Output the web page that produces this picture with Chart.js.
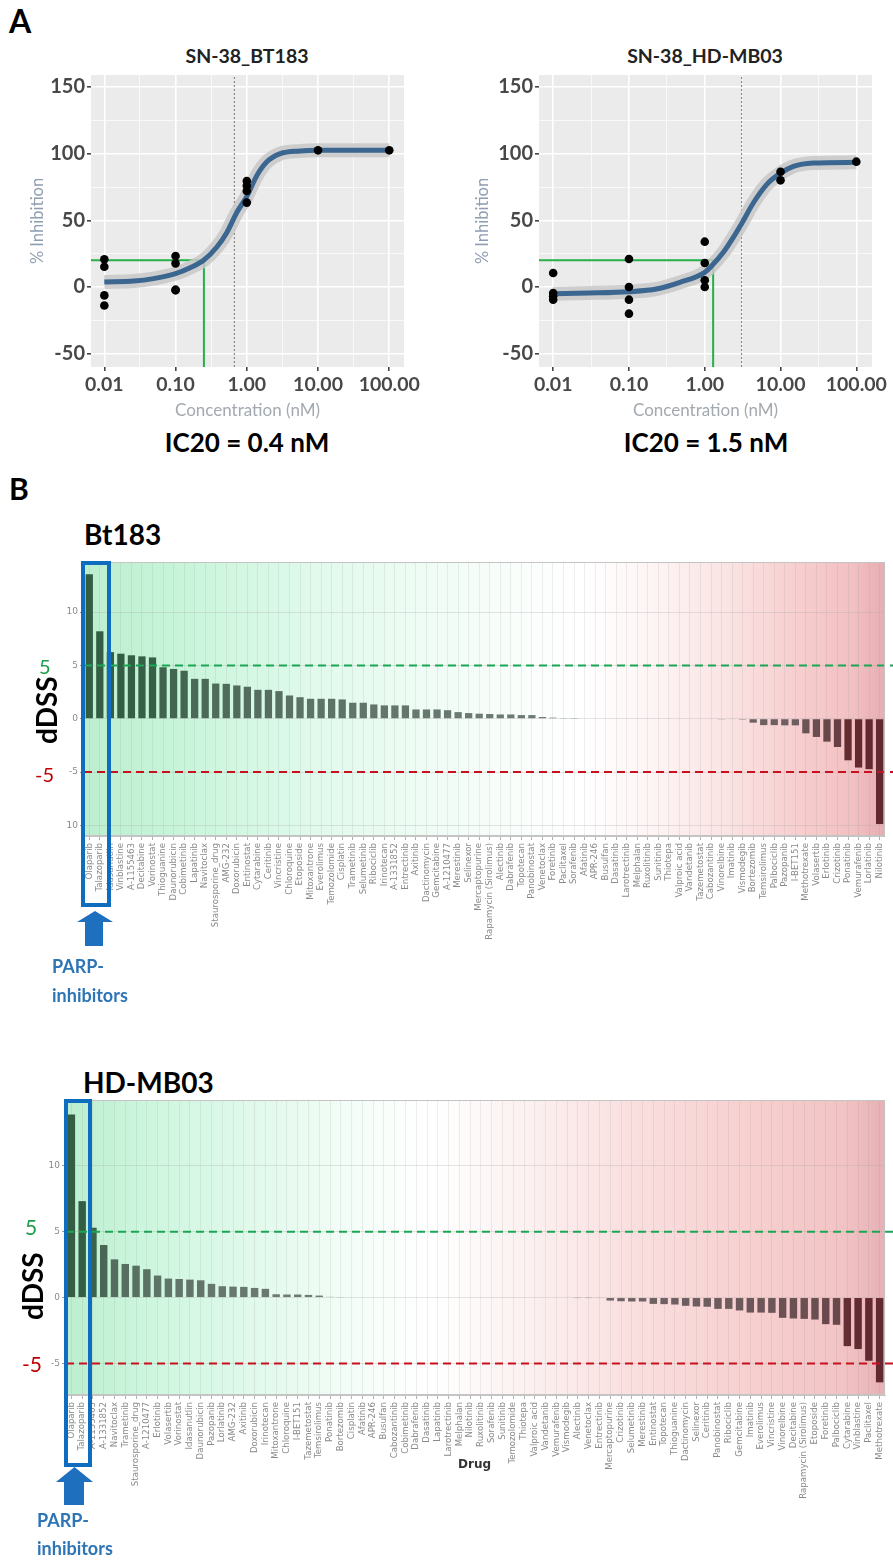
<!DOCTYPE html>
<html><head><meta charset="utf-8">
<script src="https://cdn.jsdelivr.net/npm/chart.js@4.4.1/dist/chart.umd.min.js"></script>
<style>
html,body{margin:0;padding:0;background:#fff;}
body{width:893px;height:1566px;position:relative;overflow:hidden;font-family:Lato,'Open Sans',sans-serif;}
canvas{position:absolute;}
.t{position:absolute;font-family:Lato,sans-serif;font-weight:bold;color:#000;white-space:nowrap;line-height:1;}
.box{position:absolute;border:4px solid #0f6dbf;box-sizing:border-box;}
svg{position:absolute;}
</style></head><body>

<div class="t" style="left:9px;top:5px;font-size:32px;">A</div>
<div class="t" style="left:9px;top:473px;font-size:30px;">B</div>
<div class="t" style="left:147px;top:46px;width:200px;text-align:center;font-size:19.5px;color:#222;">SN-38_BT183</div>
<div class="t" style="left:605px;top:46px;width:200px;text-align:center;font-size:19.5px;color:#222;">SN-38_HD-MB03</div>
<div class="t" style="left:147px;top:429px;width:200px;text-align:center;font-size:26px;">IC20 = 0.4 nM</div>
<div class="t" style="left:606px;top:429px;width:200px;text-align:center;font-size:26px;">IC20 = 1.5 nM</div>

<canvas id="cA1" width="416" height="385" style="left:24px;top:40px;"></canvas>
<canvas id="cA2" width="424" height="385" style="left:469px;top:40px;"></canvas>

<div class="t" style="left:84px;top:520px;font-size:28px;">Bt183</div>
<canvas id="cB1" width="893" height="404" style="left:0px;top:552px;"></canvas>
<div class="t" style="left:39px;top:656px;font-size:20px;font-weight:normal;color:#1e9e4a;">5</div>
<div class="t" style="left:35px;top:764px;font-size:20px;font-weight:normal;color:#c00000;">-5</div>
<div class="t" style="left:16px;top:700px;width:60px;text-align:center;font-size:28px;transform:rotate(-90deg);">dDSS</div>
<div class="box" style="left:81px;top:561px;width:30px;height:346px;"></div>
<svg style="left:75px;top:910px" width="40" height="38"><polygon points="2,12 20,1 38,12 28,12 28,36 10,36 10,12" fill="#1f6fbf"/></svg>
<div class="t" style="left:52px;top:957px;font-size:18px;color:#2e75b6;">PARP-</div>
<div class="t" style="left:52px;top:986px;font-size:18px;color:#2e75b6;">inhibitors</div>

<div class="t" style="left:83px;top:1068px;font-size:28px;">HD-MB03</div>
<canvas id="cB2" width="893" height="476" style="left:0px;top:1090px;"></canvas>
<div class="t" style="left:458px;top:1458px;font-family:'DejaVu Sans';font-size:12px;color:#333;">Drug</div>
<div class="t" style="left:25px;top:1216px;font-size:21px;font-weight:normal;color:#1e9e4a;">5</div>
<div class="t" style="left:22px;top:1353px;font-size:21px;font-weight:normal;color:#c00000;">-5</div>
<div class="t" style="left:2px;top:1276px;width:60px;text-align:center;font-size:28px;transform:rotate(-90deg);">dDSS</div>
<div class="box" style="left:64px;top:1099px;width:28px;height:368px;"></div>
<svg style="left:54px;top:1466px" width="42" height="40"><polygon points="2,16 20.5,1 39,16 30,16 30,39 10,39 10,16" fill="#1f6fbf"/></svg>
<div class="t" style="left:37px;top:1511px;font-size:18px;color:#2e75b6;">PARP-</div>
<div class="t" style="left:37px;top:1539px;font-size:18px;color:#2e75b6;">inhibitors</div>

<script>
// ---------------- Panel A data ----------------
const xTickValues = [0.01, 0.1, 1, 10, 100];
const xTickLabels = ['0.01', '0.10', '1.00', '10.00', '100.00'];
const yTickValues = [-50, 0, 50, 100, 150];
const yTickLabels = ['-50', '0', '50', '100', '150'];

const bt183DoseConc = [0.01,0.01,0.01,0.01, 0.1,0.1,0.1,0.1, 1,1,1,1, 10, 100];
const bt183DoseInhib = [20.8,15.2,-6.3,-13.9, 23.3,17.7,-2.5,-2.0, 79.5,76,72,63.3, 102.5, 102.5];
const bt183CurveConc = [0.01,0.026,0.049,0.1,0.16,0.25,0.38,0.52,0.72,1.0,1.38,1.9,2.95,5.6,10,100];
const bt183CurveInhib = [3.8,4.5,6.3,10,14.4,20.2,30,40.5,55.7,68,83.5,93.7,100,102,102.5,102.5];
const bt183Ic20 = [0.25, 20];
const bt183Ic50 = 0.67;

const hdDoseConc = [0.01,0.01,0.01,0.01, 0.1,0.1,0.1,0.1, 1,1,1,1, 10,10, 100];
const hdDoseInhib = [10.5,-4.5,-7,-9.5, 21,0,-9.5,-20, 34,18,5,0, 86.4,80, 94];
const hdCurveConc = [0.01,0.03,0.1,0.23,0.47,1.0,1.29,1.74,2.37,3.1,4.37,6.6,10,14.8,27,100];
const hdCurveInhib = [-5,-4.5,-3.5,-1.5,3.5,11,17,25.6,37,48,63,77,85.4,90.5,93,93.5];
const hdIc20 = [1.29, 20];
const hdIc50 = 3.06;

const doseXRange = [0.0065, 161];
const doseYRange = [-60, 159];

// ---------------- Panel B data ----------------
const btDrugs = ['Olaparib','Talazoparib','Idasanutlin','Vinblastine','A-1155463','Decitabine','Vorinostat','Thioguanine','Daunorubicin','Cobimetinib','Lapatinib','Navitoclax','Staurosporine_drug','AMG-232','Doxorubicin','Entinostat','Cytarabine','Ceritinib','Vincristine','Chloroquine','Etoposide','Mitoxantrone','Everolimus','Temozolomide','Cisplatin','Trametinib','Selumetinib','Ribociclib','Irinotecan','A-1331852','Entrectinib','Axitinib','Dactinomycin','Gemcitabine','A-1210477','Merestinib','Selinexor','Mercaptopurine','Rapamycin (Sirolimus)','Alectinib','Dabrafenib','Topotecan','Panobinostat','Venetoclax','Foretinib','Paclitaxel','Sorafenib','Afatinib','APR-246','Busulfan','Dasatinib','Larotrectinib','Melphalan','Ruxolitinib','Sunitinib','Thiotepa','Valproic acid','Vandetanib','Tazemetostat','Cabozantinib','Vinorelbine','Imatinib','Vismodegib','Bortezomib','Temsirolimus','Palbociclib','Pazopanib','I-BET151','Methotrexate','Volasertib','Erlotinib','Crizotinib','Ponatinib','Vemurafenib','Lorlatinib','Nilotinib'];
const btDss = [13.55,8.2,6.25,6.1,5.95,5.85,5.75,4.83,4.67,4.5,
  3.74,3.74,3.3,3.27,3.12,3.0,2.71,2.71,2.59,2.18,
  2.02,1.87,1.87,1.87,1.81,1.5,1.5,1.34,1.25,1.25,
  1.25,0.87,0.87,0.87,0.8,0.62,0.53,0.47,0.44,0.4,
  0.4,0.34,0.34,0.16,0.1,0.07,0.02,0,0,0,
  0,0,0,0,0,0,0,0,0,0,
  -0.03,-0.05,-0.08,-0.37,-0.6,-0.6,-0.62,-0.62,-1.37,-1.71,
  -2.15,-2.65,-3.9,-4.58,-4.73,-9.88];
const btYTickValues = [-10, -5, 0, 5, 10];
const btYTickLabels = ['10', '-5', '0', '5', '10'];
const btYRange = [-11, 14.7];

const hdDrugs = ['Olaparib','Talazoparib','A-1155463','A-1331852','Navitoclax','Trametinib','Staurosporine_drug','A-1210477','Erlotinib','Volasertib','Vorinostat','Idasanutlin','Daunorubicin','Pazopanib','Lorlatinib','AMG-232','Axitinib','Doxorubicin','Irinotecan','Mitoxantrone','Chloroquine','I-BET151','Tazemetostat','Temsirolimus','Ponatinib','Bortezomib','Cisplatin','Afatinib','APR-246','Busulfan','Cabozantinib','Cobimetinib','Dabrafenib','Dasatinib','Lapatinib','Larotrectinib','Melphalan','Nilotinib','Ruxolitinib','Sorafenib','Sunitinib','Temozolomide','Thiotepa','Valproic acid','Vandetanib','Vemurafenib','Vismodegib','Alectinib','Venetoclax','Entrectinib','Mercaptopurine','Crizotinib','Selumetinib','Merestinib','Entinostat','Topotecan','Thioguanine','Dactinomycin','Selinexor','Ceritinib','Panobinostat','Ribociclib','Gemcitabine','Imatinib','Everolimus','Vincristine','Vinorelbine','Decitabine','Rapamycin (Sirolimus)','Etoposide','Foretinib','Palbociclib','Cytarabine','Vinblastine','Paclitaxel','Methotrexate'];
const hdDss = [13.9,7.32,5.3,3.99,2.9,2.55,2.42,2.15,1.67,1.44,
  1.41,1.36,1.31,1.04,0.86,0.83,0.81,0.73,0.66,0.25,
  0.23,0.23,0.2,0.15,0.05,0.03,0,0,0,0,
  0,0,0,0,0,0,0,0,0,0,
  0,0,0,0,0,0,0,-0.02,-0.02,-0.03,
  -0.23,-0.28,-0.3,-0.3,-0.48,-0.5,-0.53,-0.63,-0.68,-0.7,
  -0.86,-0.86,-0.98,-1.14,-1.14,-1.16,-1.54,-1.59,-1.62,-1.67,
  -2.02,-2.07,-3.69,-3.91,-4.8,-6.44];
const hdYTickValues = [-5, 0, 5, 10];
const hdYTickLabels = ['-5', '0', '5', '10'];
const hdYRange = [-7.4, 15];

const thresholds = [5, -5];
const thresholdColors = ['#1aa653', '#c8101e'];

// ---------------- helpers ----------------
const zip = (xs, ys) => xs.map((x, i) => ({x, y: ys[i]}));
const near = (a, b) => Math.abs(Math.log10(a) - Math.log10(b)) < 1e-6;

function doseChart(id, d) {
  const minorX = [];
  for (let k = -2; k <= 2.001; k += 0.5) minorX.push(Math.pow(10, k));
  const isMajX = v => xTickValues.some(t => near(t, v));
  const bgPlugin = {id: 'bgA', beforeDraw(c) {
    const a = c.chartArea, ctx = c.ctx;
    ctx.save(); ctx.fillStyle = '#ebebeb';
    ctx.fillRect(a.left, a.top, a.right - a.left, a.bottom - a.top); ctx.restore();
  }};
  return new Chart(document.getElementById(id), {
    type: 'line',
    data: {datasets: [
      {data: zip(d.dc, d.di), showLine: false, pointRadius: 4.3, pointBackgroundColor: '#000', pointBorderWidth: 0, order: 0},
      {data: zip(d.cc, d.ci), borderColor: '#3a6690', borderWidth: 5, pointRadius: 0, cubicInterpolationMode: 'monotone', order: 1},
      {data: zip(d.cc, d.ci), borderColor: 'rgba(200,200,200,0.85)', borderWidth: 14, pointRadius: 0, cubicInterpolationMode: 'monotone', order: 2},
      {data: [{x: doseXRange[0], y: d.ic20[1]}, {x: d.ic20[0], y: d.ic20[1]}, {x: d.ic20[0], y: doseYRange[0]}], borderColor: '#24b04a', borderWidth: 2, pointRadius: 0, tension: 0, order: 3},
      {data: [{x: d.ic50, y: doseYRange[0]}, {x: d.ic50, y: doseYRange[1]}], borderColor: '#8a8a8a', borderWidth: 1.2, borderDash: [2, 2], pointRadius: 0, order: 4}
    ]},
    options: {
      responsive: false, animation: false,
      layout: {padding: {top: 35, right: d.padR, left: 0, bottom: 0}},
      plugins: {legend: {display: false}, tooltip: {enabled: false}},
      scales: {
        x: {type: 'logarithmic', min: doseXRange[0], max: doseXRange[1],
          afterBuildTicks: s => { s.ticks = minorX.map(v => ({value: v})); },
          afterFit: s => { s.height = 58; },
          ticks: {autoSkip: false, maxRotation: 0, padding: 2, color: '#484848', font: {family: 'Lato', size: 19.5, weight: 'bold'},
            callback: v => { const j = xTickValues.findIndex(t => near(t, v)); return j >= 0 ? xTickLabels[j] : ''; }},
          grid: {color: '#ffffff', lineWidth: c => isMajX(c.tick.value) ? 1.6 : 0.7,
            tickColor: c => isMajX(c.tick.value) ? '#444' : 'rgba(0,0,0,0)', tickLength: 4},
          border: {display: false},
          title: {display: true, text: 'Concentration (nM)', color: '#a3a9b0', font: {family: 'Lato', size: 17}, padding: 4}
        },
        y: {min: doseYRange[0], max: doseYRange[1],
          afterBuildTicks: s => { const t = []; for (let v = -50; v <= 150; v += 25) t.push({value: v}); s.ticks = t; },
          afterFit: s => { s.width = d.yW; },
          ticks: {padding: 2, color: '#484848', font: {family: 'Lato', size: 20, weight: 'bold'},
            callback: v => { const j = yTickValues.indexOf(v); return j >= 0 ? yTickLabels[j] : ''; }},
          grid: {color: '#ffffff', lineWidth: c => c.tick.value % 50 === 0 ? 1.6 : 0.7,
            tickColor: c => c.tick.value % 50 === 0 ? '#444' : 'rgba(0,0,0,0)', tickLength: 4},
          border: {display: false},
          title: {display: true, text: '% Inhibition', color: '#8e9db0', font: {family: 'Lato', size: 16.5}, padding: 4}
        }
      }
    },
    plugins: [bgPlugin]
  });
}

doseChart('cA1', {dc: bt183DoseConc, di: bt183DoseInhib, cc: bt183CurveConc, ci: bt183CurveInhib, ic20: bt183Ic20, ic50: bt183Ic50, padR: 36, yW: 67});
doseChart('cA2', {dc: hdDoseConc, di: hdDoseInhib, cc: hdCurveConc, ci: hdCurveInhib, ic20: hdIc20, ic50: hdIc50, padR: 21, yW: 70});

// ---------------- Panel B ----------------
function mix(a, b, t) { return 'rgb(' + a.map((v, i) => Math.round(v + (b[i] - v) * t)).join(',') + ')'; }
function barColor(v) {
  if (v >= 0) return mix([112, 124, 118], [52, 94, 68], Math.min(v / 6, 1));
  return mix([112, 104, 106], [98, 42, 48], Math.min(-v / 4, 1));
}

function drugChart(id, labels, values, cfg) {
  const bg = {id: 'bgB', beforeDraw(c) {
    const a = c.chartArea, ctx = c.ctx;
    const g = ctx.createLinearGradient(a.left, 0, a.right, 0);
    cfg.stops.forEach(s => g.addColorStop(s[0], s[1]));
    ctx.save(); ctx.fillStyle = g;
    ctx.fillRect(a.left, a.top, a.right - a.left, a.bottom - a.top); ctx.restore();
  }};
  const thr = {id: 'thr', afterDatasetsDraw(c) {
    const a = c.chartArea, ctx = c.ctx, y = c.scales.y;
    ctx.save(); ctx.lineWidth = 2; ctx.setLineDash([8, 5]);
    thresholds.forEach((t, i) => {
      const py = y.getPixelForValue(t);
      ctx.strokeStyle = thresholdColors[i];
      ctx.beginPath(); ctx.moveTo(a.left, py); ctx.lineTo(c.width, py); ctx.stroke();
    });
    ctx.setLineDash([]); ctx.strokeStyle = '#c4c4c4'; ctx.lineWidth = 1;
    ctx.strokeRect(a.left + 0.5, a.top + 0.5, a.right - a.left - 1, a.bottom - a.top - 1);
    ctx.restore();
  }};
  return new Chart(document.getElementById(id), {
    type: 'bar',
    data: {labels: labels, datasets: [{data: values, backgroundColor: c => barColor(c.raw), barPercentage: 0.69, categoryPercentage: 1}]},
    options: {
      responsive: false, animation: false,
      layout: {padding: {top: 10, right: cfg.padR, left: 0, bottom: cfg.padB}},
      plugins: {legend: {display: false}, tooltip: {enabled: false}},
      scales: {
        x: {
          afterFit: s => { s.height = cfg.xH; },
          ticks: {autoSkip: false, minRotation: 90, maxRotation: 90, padding: 3, color: '#8a8a8a', font: {family: 'DejaVu Sans', size: 8.6}},
          grid: {offset: false, color: 'rgba(150,150,150,0.16)', tickColor: '#b0b0b0', tickLength: 4},
          border: {color: '#c4c4c4'}
        },
        y: {min: cfg.yRange[0], max: cfg.yRange[1],
          afterBuildTicks: s => { s.ticks = cfg.yTicks.map(v => ({value: v})); },
          afterFit: s => { s.width = cfg.yW; },
          ticks: {padding: 2, color: '#8a8a8a', font: {family: 'DejaVu Sans', size: 9},
            callback: v => { const j = cfg.yTicks.indexOf(v); return j >= 0 ? cfg.yLabels[j] : ''; }},
          grid: {color: 'rgba(170,170,170,0.3)', tickColor: '#999', tickLength: 4},
          border: {display: false}
        }
      }
    },
    plugins: [bg, thr]
  });
}

drugChart('cB1', btDrugs, btDss, {
  yRange: btYRange, yTicks: btYTickValues, yLabels: btYTickLabels, yW: 84, xH: 120, padR: 3, padB: 0,
  stops: [[0, 'rgb(188,238,207)'], [0.12, 'rgb(200,245,218)'], [0.3, 'rgb(226,250,237)'], [0.5, 'rgb(246,253,249)'], [0.62, '#ffffff'],
          [0.7, 'rgb(254,246,246)'], [0.8, 'rgb(251,228,228)'], [0.9, 'rgb(247,204,205)'], [0.96, 'rgb(242,192,194)'], [1, 'rgb(230,174,178)']]
});
drugChart('cB2', hdDrugs, hdDss, {
  yRange: hdYRange, yTicks: hdYTickValues, yLabels: hdYTickLabels, yW: 66, xH: 150, padR: 5, padB: 21,
  stops: [[0, 'rgb(188,238,207)'], [0.1, 'rgb(205,246,222)'], [0.25, 'rgb(228,250,238)'], [0.38, 'rgb(248,254,250)'], [0.45, '#ffffff'],
          [0.55, 'rgb(253,242,242)'], [0.7, 'rgb(250,222,222)'], [0.85, 'rgb(247,206,206)'], [0.95, 'rgb(242,195,196)'], [1, 'rgb(230,176,180)']]
});
</script>
</body></html>
